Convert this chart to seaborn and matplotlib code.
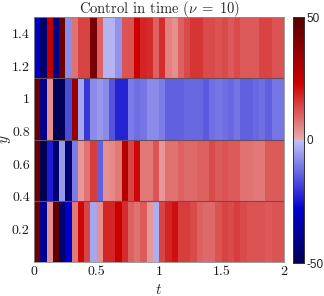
import numpy as np
import pandas as pd
import seaborn as sns
import matplotlib
matplotlib.use("Agg")
import matplotlib.pyplot as plt
from matplotlib.colors import LinearSegmentedColormap

# ---- data: control value per time step (dt = 0.05) for 4 spatial bands ----
t_max = 2.0
y_max = 1.5
band_top = [-30, -45, 25, -40, 45, -8, 8, 14, 14, 42, 10, -2, -2, -7, 12, 12, 23, 18, 17, 10,
            17, 6, 4, 10, 13, 16, 16, 13, 13, 12, 13, 11, 13, 11, 11, 11, 14, 14, 12, 12]
band_upper_mid = [45, -40, 4, -50, -50, -17, 35, -4, -20, -8, -6, -8, -16, -23, -23, -10, -12, -11, -8, -8,
                  -10, -14, -14, -14, -13, -13, -13, -15, -12, -11, -12, -13, -11, -14, -14, -13, -12, -14, -11, -11]
band_lower_mid = [45, -50, -24, -45, -6, -45, -10, 3, 8, 15, -14, 4, 5, 7, 28, 14, 22, 7, 7, 12,
                  3, 8, 8, 10, 9, 9, 10, 10, 13, 11, 12, 11, 11, 8, 8, 7, 7, 11, 11, 11]
band_bottom = [45, -38, 4, 48, -45, -28, 7, 22, 14, -4, 4, 18, 18, 24, 17, 10, 8, 11, 3, -3,
               14, 18, 21, 15, 15, 13, 10, 9, 9, 12, 14, 13, 15, 13, 12, 12, 12, 11, 12, 12]
x_ticks = [0, 0.5, 1, 1.5, 2]
x_ticklabels = ["0", "0.5", "1", "1.5", "2"]
y_ticks = [0.2, 0.4, 0.6, 0.8, 1.0, 1.2, 1.4]
y_ticklabels = ["0.2", "0.4", "0.6", "0.8", "1", "1.2", "1.4"]
c_ticks = [-50, 0, 50]
c_ticklabels = ["-50", "0", "50"]

bands = [band_top, band_upper_mid, band_lower_mid, band_bottom]  # top to bottom
n_t = len(band_top)
n_y = len(bands)
dt = t_max / n_t
dy = y_max / n_y
df = pd.DataFrame(np.array(bands, dtype=float))

# ---- colormap (discontinuous at zero) ----
cmap = LinearSegmentedColormap.from_list(
    "rb",
    [(0.0, (0.0, 0.0, 0.33)),
     (0.22, (0.0, 0.0, 0.80)),
     (0.4999, (0.76, 0.76, 0.96)),
     (0.5, (0.92, 0.68, 0.68)),
     (0.73, (0.80, 0.0, 0.0)),
     (1.0, (0.33, 0.0, 0.0))],
    N=512)

sns.set_theme(style="white")
plt.rcParams["font.family"] = ["cmr10", "DejaVu Serif"]
plt.rcParams["mathtext.fontset"] = "cm"
plt.rcParams["axes.formatter.use_mathtext"] = True

fig = plt.figure(figsize=(3.24, 2.96), dpi=100)
ax = fig.add_axes([34 / 324, 1 - 262 / 296, 250 / 324, 245 / 296])
cax = fig.add_axes([293 / 324, 1 - 263 / 296, 11 / 324, 246 / 296])

sns.heatmap(df, cmap=cmap, vmin=-50, vmax=50, ax=ax, cbar_ax=cax,
            xticklabels=False, yticklabels=False)

# band separators
for i in range(1, n_y):
    ax.axhline(i, color=(0.42, 0.30, 0.36), lw=0.8)

for s in ax.spines.values():
    s.set_visible(True)
    s.set_color((0.55, 0.55, 0.55))
    s.set_linewidth(0.6)

ax.set_xticks([x / dt for x in x_ticks])
ax.set_xticklabels(x_ticklabels, fontsize=10, rotation=0)
ax.set_yticks([(y_max - y) / dy for y in y_ticks])
ax.set_yticklabels(y_ticklabels, fontsize=10, rotation=0)
ax.tick_params(axis="both", which="both", length=0, pad=3, colors=(0.1, 0.1, 0.1))
ax.set_xlabel(r"$t$", fontsize=11)
ax.set_ylabel(r"$y$", fontsize=11)
ax.xaxis.set_label_coords(0.5, -0.085)
ax.yaxis.set_label_coords(-0.083, 0.5)
ax.set_title(r"Control in time ($\nu\;=\;10$)", fontsize=10.5, pad=3)

cax.set_yticks(c_ticks)
cax.set_yticklabels(c_ticklabels, family="Liberation Sans", fontsize=8.5)
cax.tick_params(axis="y", direction="in", length=3, width=0.6, pad=2, colors=(0.15, 0.15, 0.15))
for s in cax.spines.values():
    s.set_visible(True)
    s.set_color((0.2, 0.2, 0.2))
    s.set_linewidth(0.6)

fig.savefig("out.png", dpi=100)
